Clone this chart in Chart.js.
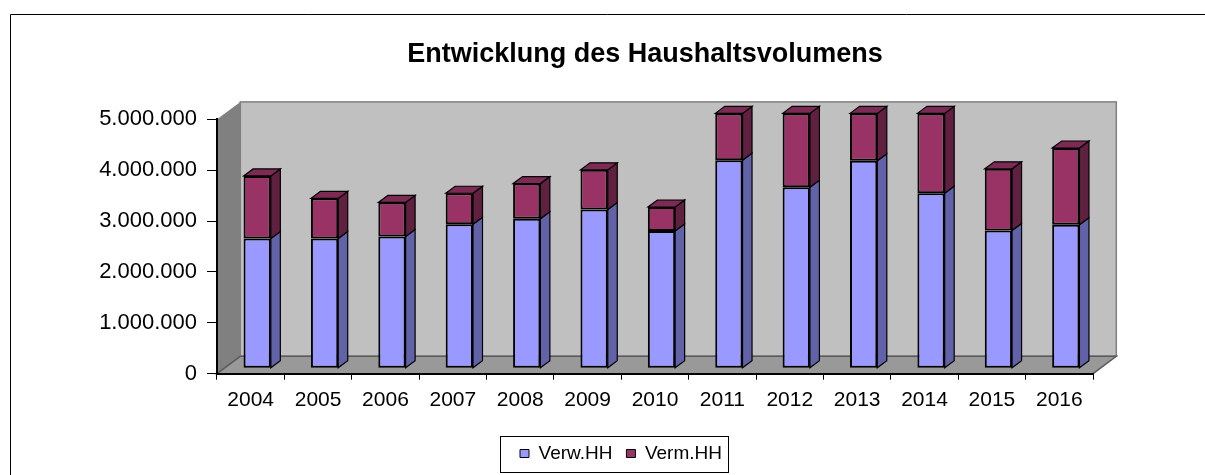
<!DOCTYPE html>
<html>
<head>
<meta charset="utf-8">
<title>Entwicklung des Haushaltsvolumens</title>
<script src="https://cdn.jsdelivr.net/npm/chart.js@4.4.1/dist/chart.umd.min.js"></script>
<style>
    html, body { margin: 0; padding: 0; background: #fff; }
    #wrap { width: 1205px; height: 475px; position: relative; }
</style>
</head>
<body>
<div id="wrap"><canvas id="haushaltChart"></canvas></div>
<script>
// Data
const years = ['2004', '2005', '2006', '2007', '2008', '2009', '2010', '2011', '2012', '2013', '2014', '2015', '2016'];
const verwHH = [2550000, 2550000, 2590000, 2830000, 2940000, 3120000, 2700000, 4090000, 3560000, 4080000, 3440000, 2710000, 2820000];
const vermHH = [1230000, 790000, 670000, 610000, 690000, 780000, 470000, 920000, 1450000, 930000, 1570000, 1210000, 1510000];
const yTicks = [0, 1000000, 2000000, 3000000, 4000000, 5000000];

const seriesNames = ['Verw.HH', 'Verm.HH'];
const frontColors = ['#9999FF', '#993366'];
const sideColors = ['#6262A8', '#602040'];
const topColors = ['#7E7ED8', '#7D2A55'];

// 3D look: wall depth and bar depth (pixels)
const WALL_DX = 23.3, WALL_DY = -17.4;
const BAR_SHIFT_X = 6.5, BAR_SHIFT_Y = -5.4;
const BAR_DX = 9.5, BAR_DY = -7;

function formatDE(v) {
    return String(v).replace(/\B(?=(\d{3})+(?!\d))/g, '.');
}

Chart.defaults.font.family = "'Liberation Sans', Arial, sans-serif";
Chart.defaults.color = '#000';

function shiftBox(box, dx) {
    box.left += dx;
    box.right += dx;
}

const box3d = {
    id: 'box3d',
    afterLayout(chart) {
        // the original centres title and legend off the plot centre
        shiftBox(chart.titleBlock, 93.5);
        const lg = chart.legend;
        shiftBox(lg, 69.5);
        lg.legendHitBoxes.forEach(h => { h.left += 69.5; });
    },
    beforeDraw(chart) {
        const ctx = chart.ctx;
        const a = chart.chartArea;
        ctx.save();
        // outer frame (top and left only)
        ctx.strokeStyle = '#000';
        ctx.lineWidth = 1;
        ctx.beginPath();
        ctx.moveTo(10.5, 475);
        ctx.lineTo(10.5, 14.5);
        ctx.lineTo(1205, 14.5);
        ctx.stroke();

        // back wall
        ctx.fillStyle = '#C0C0C0';
        ctx.fillRect(a.left + WALL_DX, a.top + WALL_DY, a.right - a.left, a.bottom - a.top);
        ctx.strokeStyle = '#808080';
        ctx.lineWidth = 1.5;
        ctx.strokeRect(a.left + WALL_DX, a.top + WALL_DY, a.right - a.left, a.bottom - a.top);

        // side wall
        ctx.fillStyle = '#808080';
        ctx.beginPath();
        ctx.moveTo(a.left, a.top);
        ctx.lineTo(a.left + WALL_DX, a.top + WALL_DY);
        ctx.lineTo(a.left + WALL_DX, a.bottom + WALL_DY);
        ctx.lineTo(a.left, a.bottom);
        ctx.closePath();
        ctx.fill();

        // floor
        ctx.fillStyle = '#999999';
        ctx.strokeStyle = '#5A5A5A';
        ctx.lineWidth = 1.5;
        ctx.beginPath();
        ctx.moveTo(a.left, a.bottom);
        ctx.lineTo(a.left + WALL_DX, a.bottom + WALL_DY);
        ctx.lineTo(a.right + WALL_DX, a.bottom + WALL_DY);
        ctx.lineTo(a.right, a.bottom);
        ctx.closePath();
        ctx.fill();
        ctx.stroke();
        ctx.restore();
    },
    beforeDatasetsDraw(chart) {
        chart.ctx.save();
        chart.ctx.translate(BAR_SHIFT_X, BAR_SHIFT_Y);
    },
    afterDatasetsDraw(chart) {
        const ctx = chart.ctx;
        const last = chart.data.datasets.length - 1;
        chart.data.datasets.forEach((ds, di) => {
            const meta = chart.getDatasetMeta(di);
            meta.data.forEach(bar => {
                const p = bar.getProps(['x', 'y', 'base', 'width'], true);
                const left = p.x - p.width / 2;
                const right = p.x + p.width / 2;
                const top = Math.min(p.y, p.base);
                const bottom = Math.max(p.y, p.base);
                ctx.lineWidth = 1.2;
                ctx.strokeStyle = '#000';
                // side face
                ctx.fillStyle = sideColors[di];
                ctx.beginPath();
                ctx.moveTo(right, top);
                ctx.lineTo(right + BAR_DX, top + BAR_DY);
                ctx.lineTo(right + BAR_DX, bottom + BAR_DY);
                ctx.lineTo(right, bottom);
                ctx.closePath();
                ctx.fill();
                ctx.stroke();
                // top face only on the upper segment
                if (di === last) {
                    ctx.fillStyle = topColors[di];
                    ctx.beginPath();
                    ctx.moveTo(left, top);
                    ctx.lineTo(left + BAR_DX, top + BAR_DY);
                    ctx.lineTo(right + BAR_DX, top + BAR_DY);
                    ctx.lineTo(right, top);
                    ctx.closePath();
                    ctx.fill();
                    ctx.stroke();
                }
            });
        });
        ctx.restore();
    },
    afterDraw(chart) {
        // border around the legend items
        const hb = chart.legend.legendHitBoxes;
        if (!hb || !hb.length) return;
        const ctx = chart.ctx;
        const first = hb[0], lastBox = hb[hb.length - 1];
        const cy = first.top + first.height / 2;
        ctx.save();
        ctx.strokeStyle = '#000';
        ctx.lineWidth = 1;
        const x0 = Math.round(first.left - 20) + 0.5;
        const x1 = Math.round(lastBox.left + lastBox.width + 6) + 0.5;
        const y0 = Math.round(cy - 18) + 0.5;
        const y1 = Math.round(cy + 18) + 0.5;
        ctx.strokeRect(x0, y0, x1 - x0, y1 - y0);
        ctx.restore();
    }
};

const ctx = document.getElementById('haushaltChart').getContext('2d');
new Chart(ctx, {
    type: 'bar',
    data: {
        labels: years,
        datasets: [{
            label: seriesNames[0],
            data: verwHH,
            backgroundColor: frontColors[0],
            borderColor: '#000',
            borderWidth: 2,
            borderSkipped: false
        }, {
            label: seriesNames[1],
            data: vermHH,
            backgroundColor: frontColors[1],
            borderColor: '#000',
            borderWidth: 2,
            borderSkipped: false
        }]
    },
    options: {
        responsive: true,
        maintainAspectRatio: false,
        animation: false,
        events: [],
        layout: {
            padding: { left: 10, right: 112, top: 0, bottom: 2 }
        },
        datasets: {
            bar: {
                categoryPercentage: 1,
                barPercentage: 0.405
            }
        },
        plugins: {
            title: {
                display: true,
                text: 'Entwicklung des Haushaltsvolumens',
                color: '#000',
                font: { size: 27, weight: 'bold' },
                padding: { top: 38.1, bottom: 48.8 }
            },
            legend: {
                display: true,
                position: 'bottom',
                labels: {
                    boxWidth: 9,
                    boxHeight: 8,
                    padding: 14,
                    color: '#000',
                    font: { size: 19 },
                    generateLabels: function (chart) {
                        const items = Chart.defaults.plugins.legend.labels.generateLabels(chart);
                        items.forEach(i => { i.lineWidth = 1; });
                        return items;
                    }
                }
            },
            tooltip: { enabled: false }
        },
        scales: {
            x: {
                stacked: true,
                offset: true,
                grid: {
                    offset: true,
                    drawOnChartArea: false,
                    drawTicks: true,
                    tickLength: 6,
                    color: '#000',
                    lineWidth: 1
                },
                border: { display: true, color: '#000', width: 2 },
                ticks: {
                    color: '#000',
                    padding: 8,
                    maxRotation: 0,
                    font: { size: 21 }
                },
                afterFit: function (scale) {
                    scale.height = 56.3;
                }
            },
            y: {
                stacked: true,
                min: 0,
                max: yTicks[yTicks.length - 1],
                afterBuildTicks: function (scale) {
                    scale.ticks = yTicks.map(v => ({ value: v }));
                },
                grid: {
                    drawOnChartArea: false,
                    drawTicks: true,
                    tickLength: 10,
                    color: '#000',
                    lineWidth: 1
                },
                border: { display: true, color: '#000', width: 2 },
                ticks: {
                    color: '#000',
                    padding: 10,
                    font: { size: 22 },
                    callback: function (value) {
                        return formatDE(value);
                    }
                },
                afterFit: function (scale) {
                    scale.width = 207;
                }
            }
        }
    },
    plugins: [box3d]
});
</script>
</body>
</html>
